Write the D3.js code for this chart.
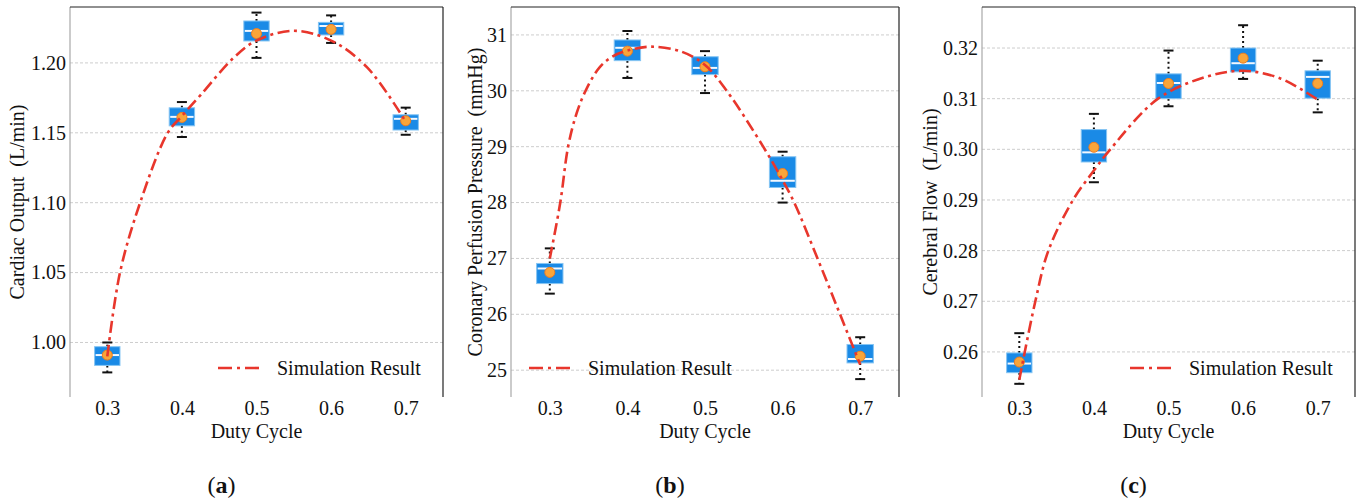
<!DOCTYPE html>
<html>
<head>
<meta charset="utf-8">
<script src="https://cdn.jsdelivr.net/npm/d3@7"></script>
<style>
  body { margin: 0; background: #fff; }
  svg text { font-family: "Liberation Serif", "Times New Roman", serif; fill: #111; }
</style>
</head>
<body>
<div id="vis"></div>
<script>

const duty = [0.3, 0.4, 0.5, 0.6, 0.7]

// (a) cardiac output box stats
const coLow  = [0.9786, 1.147, 1.2036, 1.2143, 1.1486]
const coQ1   = [0.9836, 1.155, 1.2157, 1.220, 1.152]
const coMed  = [0.991, 1.1614, 1.2229, 1.2264, 1.160]
const coQ3   = [0.997, 1.1679, 1.230, 1.229, 1.1629]
const coHigh = [1.000, 1.172, 1.236, 1.234, 1.168]
const coMean = [0.991, 1.161, 1.221, 1.224, 1.1586]
const coSimX = [0.30, 0.317, 0.344, 0.381, 0.40, 0.425, 0.47, 0.50, 0.55, 0.60, 0.648, 0.70]
const coSimY = [0.990, 1.05, 1.10, 1.15, 1.162, 1.177, 1.204, 1.216, 1.223, 1.216, 1.197, 1.158]
const coTicks = [1.00, 1.05, 1.10, 1.15, 1.20]

// (b) coronary perfusion pressure
const cpLow  = [26.37, 30.23, 29.96, 28.0, 24.84]
const cpQ1   = [26.55, 30.54, 30.29, 28.27, 25.13]
const cpMed  = [26.82, 30.77, 30.41, 28.39, 25.20]
const cpQ3   = [26.91, 30.91, 30.61, 28.82, 25.46]
const cpHigh = [27.18, 31.07, 30.71, 28.91, 25.59]
const cpMean = [26.75, 30.71, 30.43, 28.52, 25.25]
const cpSimX = [0.30, 0.3135, 0.3236, 0.3346, 0.3475, 0.3647, 0.3818, 0.40, 0.43, 0.47, 0.50, 0.528, 0.575, 0.60, 0.615, 0.645, 0.674, 0.70]
const cpSimY = [27.0, 28.0, 29.0, 29.6, 30.04, 30.43, 30.62, 30.72, 30.79, 30.7, 30.46, 30.0, 29.0, 28.4, 28.0, 27.0, 26.0, 25.1]
const cpTicks = [25, 26, 27, 28, 29, 30, 31]

// (c) cerebral flow
const cfLow  = [0.2537, 0.2935, 0.3085, 0.3139, 0.3073]
const cfQ1   = [0.2559, 0.2975, 0.3100, 0.3153, 0.3101]
const cfMed  = [0.2577, 0.2994, 0.3131, 0.3170, 0.3143]
const cfQ3   = [0.2598, 0.3039, 0.3149, 0.3200, 0.3155]
const cfHigh = [0.2637, 0.3070, 0.3195, 0.3245, 0.3175]
const cfMean = [0.2580, 0.3004, 0.3130, 0.3180, 0.3130]
const cfSimX = [0.30, 0.3215, 0.339, 0.372, 0.40, 0.422, 0.486, 0.55, 0.60, 0.65, 0.70]
const cfSimY = [0.2545, 0.27, 0.28, 0.29, 0.2958, 0.30, 0.31, 0.3143, 0.3155, 0.314, 0.3098]
const cfTicks = [0.26, 0.27, 0.28, 0.29, 0.30, 0.31, 0.32]

const panelLetters = ["a", "b", "c"]
const yLabels = ["Cardiac Output  (L/min)", "Coronary Perfusion Pressure  (mmHg)", "Cerebral Flow  (L/min)"]

const W = 1360, H = 501
const plotTop = 7, plotBottom = 397
const dashDot = "12,4.5,3,4.5"
const red = "#e8362c"
const serif = '"Liberation Serif", "Times New Roman", serif'

const svg = d3.select('#vis').append('svg')
    .attr('width', W)
    .attr('height', H)
    .attr('font-family', serif)

function zip(low, q1, med, q3, high, mean) {
    return duty.map((d, i) => ({ x: d, low: low[i], q1: q1[i], med: med[i], q3: q3[i], high: high[i], mean: mean[i] }))
}

const panels = [
    { left: 70, right: 443, yDom: [0.961, 1.24], ticks: coTicks, fmt: d3.format(".2f"),
      boxes: zip(coLow, coQ1, coMed, coQ3, coHigh, coMean), simX: coSimX, simY: coSimY,
      labelX: 17, legendRight: true },
    { left: 511, right: 899, yDom: [24.52, 31.5], ticks: cpTicks, fmt: d3.format("d"),
      boxes: zip(cpLow, cpQ1, cpMed, cpQ3, cpHigh, cpMean), simX: cpSimX, simY: cpSimY,
      labelX: 475, legendRight: false },
    { left: 982, right: 1355, yDom: [0.2511, 0.3281], ticks: cfTicks, fmt: d3.format(".2f"),
      boxes: zip(cfLow, cfQ1, cfMed, cfQ3, cfHigh, cfMean), simX: cfSimX, simY: cfSimY,
      labelX: 930, legendRight: true }
]

panels.forEach((p, k) => drawPanel(p, k))

function drawPanel(p, k) {
    const g = svg.append('g')

    const x = d3.scaleLinear().domain([0.25, 0.75]).range([p.left, p.right])
    const y = d3.scaleLinear().domain(p.yDom).range([plotBottom, plotTop])
    const boxW = x(0.334) - x(0.3)
    const capW = 5

    // dashed horizontal grid
    g.selectAll('.grid')
        .data(p.ticks)
        .enter()
        .append('line')
        .attr('x1', p.left)
        .attr('x2', p.right)
        .attr('y1', d => y(d))
        .attr('y2', d => y(d))
        .attr('stroke', '#cdcdcd')
        .attr('stroke-width', 1)
        .attr('stroke-dasharray', '3,2')

    // spines: grey left, black top and right, no bottom
    g.append('line').attr('x1', p.left).attr('x2', p.left).attr('y1', plotTop).attr('y2', plotBottom)
        .attr('stroke', '#a8a8a8').attr('stroke-width', 1.2)
    g.append('line').attr('x1', p.left).attr('x2', p.right).attr('y1', plotTop).attr('y2', plotTop)
        .attr('stroke', '#222').attr('stroke-width', 1.2)
    g.append('line').attr('x1', p.right).attr('x2', p.right).attr('y1', plotTop).attr('y2', plotBottom)
        .attr('stroke', '#222').attr('stroke-width', 1.2)

    const yAxis = g.append('g')
        .attr('transform', `translate(${p.left},0)`)
        .call(d3.axisLeft(y).tickValues(p.ticks).tickFormat(p.fmt).tickSize(0).tickPadding(4))
        .attr('font-family', serif)
        .attr('font-size', 20)
    yAxis.select('.domain').remove()
    yAxis.selectAll('text').attr('fill', '#111')

    const xAxis = g.append('g')
        .attr('transform', `translate(0,${plotBottom})`)
        .call(d3.axisBottom(x).tickValues(duty).tickFormat(d3.format(".1f")).tickSize(0).tickPadding(4))
        .attr('font-family', serif)
        .attr('font-size', 20)
    xAxis.select('.domain').remove()
    xAxis.selectAll('text').attr('fill', '#111')

    g.append('text')
        .attr('x', (p.left + p.right) / 2)
        .attr('y', 438)
        .attr('text-anchor', 'middle')
        .style('font-size', '20px')
        .text('Duty Cycle')

    g.append('text')
        .attr('transform', `translate(${p.labelX},${(plotTop + plotBottom) / 2}) rotate(-90)`)
        .attr('text-anchor', 'middle')
        .attr('dy', '0.35em')
        .style('font-size', '20px')
        .style('white-space', 'pre')
        .text(yLabels[k])

    // panel letter, e.g. (a)
    const lt = g.append('text')
        .attr('x', (p.left + p.right) / 2 - 35)
        .attr('y', 493)
        .attr('text-anchor', 'middle')
        .style('font-size', '24px')
    lt.append('tspan').text('(')
    lt.append('tspan').style('font-weight', 'bold').text(panelLetters[k])
    lt.append('tspan').text(')')

    const boxes = g.selectAll('.box')
        .data(p.boxes)
        .enter()
        .append('g')
        .attr('class', 'box')

    // dotted whiskers
    boxes.append('line')
        .attr('x1', d => x(d.x)).attr('x2', d => x(d.x))
        .attr('y1', d => y(d.q3)).attr('y2', d => y(d.high))
        .attr('stroke', '#111').attr('stroke-width', 2).attr('stroke-dasharray', '2,3')
    boxes.append('line')
        .attr('x1', d => x(d.x)).attr('x2', d => x(d.x))
        .attr('y1', d => y(d.q1)).attr('y2', d => y(d.low))
        .attr('stroke', '#111').attr('stroke-width', 2).attr('stroke-dasharray', '2,3')

    // caps
    boxes.append('line')
        .attr('x1', d => x(d.x) - capW).attr('x2', d => x(d.x) + capW)
        .attr('y1', d => y(d.high)).attr('y2', d => y(d.high))
        .attr('stroke', '#111').attr('stroke-width', 2)
    boxes.append('line')
        .attr('x1', d => x(d.x) - capW).attr('x2', d => x(d.x) + capW)
        .attr('y1', d => y(d.low)).attr('y2', d => y(d.low))
        .attr('stroke', '#111').attr('stroke-width', 2)

    boxes.append('rect')
        .attr('x', d => x(d.x) - boxW / 2)
        .attr('y', d => y(d.q3))
        .attr('width', boxW)
        .attr('height', d => y(d.q1) - y(d.q3))
        .attr('fill', '#1a8ae6')
        .attr('stroke', '#86c5f3')
        .attr('stroke-width', 1)

    boxes.append('line')
        .attr('x1', d => x(d.x) - boxW / 2 + 1).attr('x2', d => x(d.x) + boxW / 2 - 1)
        .attr('y1', d => y(d.med)).attr('y2', d => y(d.med))
        .attr('stroke', '#f2f8ff').attr('stroke-width', 2)

    boxes.append('circle')
        .attr('cx', d => x(d.x))
        .attr('cy', d => y(d.mean))
        .attr('r', 5)
        .attr('fill', '#f9a53a')
        .attr('stroke', '#ef7d1f')
        .attr('stroke-width', 1)

    // simulation curve
    const sim = p.simX.map((v, i) => [v, p.simY[i]])
    const line = d3.line()
        .x(d => x(d[0]))
        .y(d => y(d[1]))
        .curve(d3.curveCatmullRom.alpha(0.5))
    g.append('path')
        .datum(sim)
        .attr('d', line)
        .attr('fill', 'none')
        .attr('stroke', red)
        .attr('stroke-width', 2.6)
        .attr('stroke-dasharray', dashDot)

    // legend
    const lgX = p.legendRight ? p.right - 225 : p.left + 18
    g.append('line')
        .attr('x1', lgX).attr('x2', lgX + 42)
        .attr('y1', 368).attr('y2', 368)
        .attr('stroke', red).attr('stroke-width', 2.6)
        .attr('stroke-dasharray', '14,5,3,5')
    g.append('text')
        .attr('x', lgX + 59)
        .attr('y', 375)
        .style('font-size', '20px')
        .text('Simulation Result')
}
</script>
</body>
</html>
